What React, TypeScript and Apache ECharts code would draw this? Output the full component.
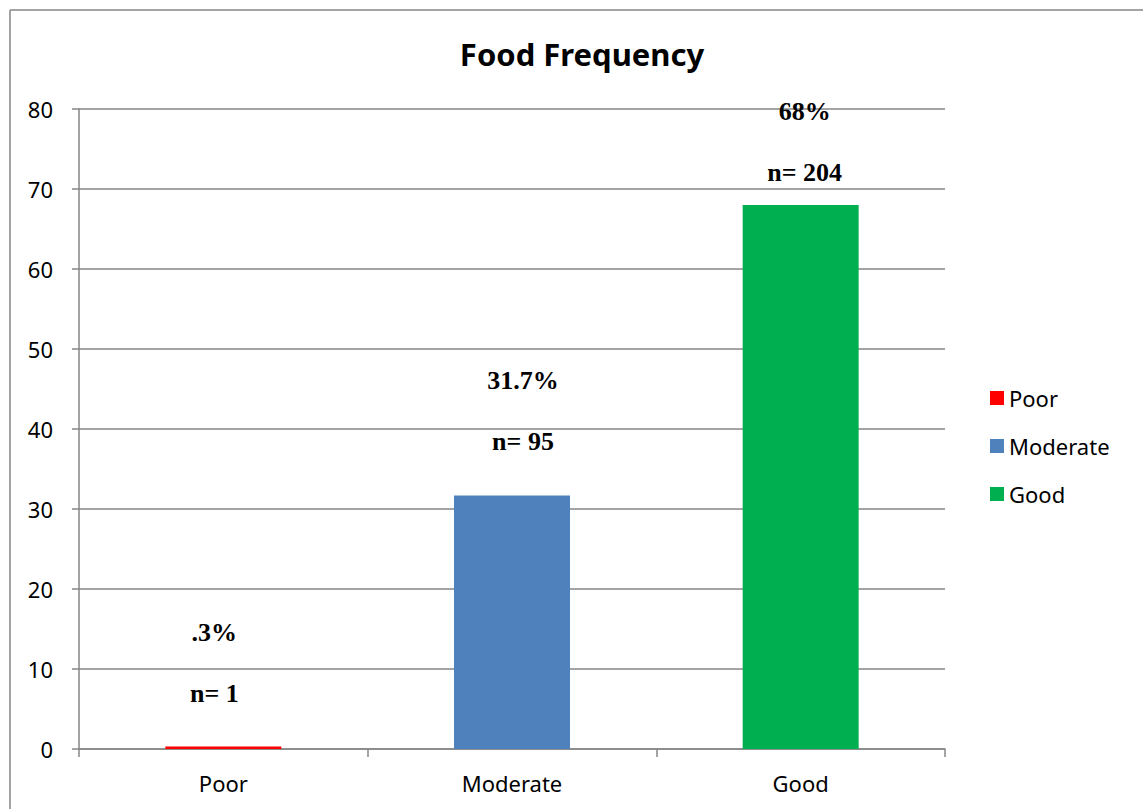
import React, { useEffect, useRef } from "react";
import * as echarts from "echarts";

const categories = ["Poor", "Moderate", "Good"];
const percentValues = [0.3, 31.7, 68];
const counts = [1, 95, 204];
const percentLabels = [".3%", "31.7%", "68%"];
const yTicks = { min: 0, max: 80, interval: 10 };

const barColors = ["#FF0000", "#4F81BD", "#00B050"];
const labelDistance = [23, 23, 2];
const labelOffsetX = [-9, 11, 4];

export default function App() {
  const ref = useRef<HTMLDivElement>(null);
  useEffect(() => {
    document.body.style.margin = "0";
    document.body.style.overflow = "hidden";
    if (!ref.current) return;
    const chart = echarts.init(ref.current, null, { renderer: "svg" });
    const gray = "#868686";
    const series = categories.map((name, i) => ({
      name,
      type: "bar",
      stack: "total",
      barWidth: 116,
      itemStyle: { color: barColors[i] },
      data: categories.map((_, j) =>
        j === i
          ? {
              value: percentValues[i],
              label: {
                show: true,
                position: "top",
                distance: labelDistance[i],
                offset: [labelOffsetX[i], 0],
                formatter: `{a|${percentLabels[i]}}\n{a|n= ${counts[i]}}`,
                rich: {
                  a: {
                    fontFamily: "Liberation Serif",
                    fontWeight: "bold",
                    fontSize: 26,
                    lineHeight: 61,
                    color: "#000",
                  },
                },
              },
            }
          : "-"
      ),
    }));
    chart.setOption({
      animation: false,
      backgroundColor: "#fff",
      title: {
        text: "Food Frequency",
        left: 582,
        top: 38,
        textAlign: "center",
        padding: 0,
        textStyle: {
          fontFamily: "Noto Sans",
          fontWeight: "bold",
          fontSize: 31,
          color: "#000",
        },
      },
      graphic: [
        {
          type: "rect",
          shape: { x: 1120, y: 12, width: 30, height: 800 },
          style: { fill: "#fff" },
          z: 100,
          silent: true,
        },
        {
          type: "line",
          shape: { x1: 10, y1: 10, x2: 1143, y2: 10 },
          style: { stroke: gray, lineWidth: 1.5 },
          z: 101,
          silent: true,
        },
        {
          type: "line",
          shape: { x1: 10, y1: 10, x2: 10, y2: 809 },
          style: { stroke: gray, lineWidth: 1.5 },
          silent: true,
        },
      ],
      legend: {
        orient: "vertical",
        left: 990,
        top: 387,
        padding: 0,
        itemWidth: 14,
        itemHeight: 14,
        itemGap: 26,
        icon: "rect",
        data: categories,
        textStyle: { fontFamily: "Noto Sans", fontSize: 22, color: "#000" },
      },
      grid: { left: 79, top: 109, width: 866, height: 640 },
      xAxis: {
        type: "category",
        data: categories,
        axisLine: { lineStyle: { color: gray, width: 1.5 } },
        axisTick: { show: true, length: 8, lineStyle: { color: gray, width: 1.5 } },
        axisLabel: {
          margin: 23,
          fontFamily: "Noto Sans",
          fontSize: 22,
          color: "#000",
        },
      },
      yAxis: {
        type: "value",
        min: yTicks.min,
        max: yTicks.max,
        interval: yTicks.interval,
        axisLine: { show: true, lineStyle: { color: gray, width: 1.5 } },
        axisTick: { show: true, length: 7, lineStyle: { color: gray, width: 1.5 } },
        splitLine: { show: true, lineStyle: { color: gray, width: 1.5 } },
        axisLabel: {
          margin: 26,
          fontFamily: "Noto Sans",
          fontSize: 22,
          color: "#000",
        },
      },
      series,
    });
    return () => chart.dispose();
  }, []);
  return <div ref={ref} style={{ width: 1143, height: 809 }} />;
}
